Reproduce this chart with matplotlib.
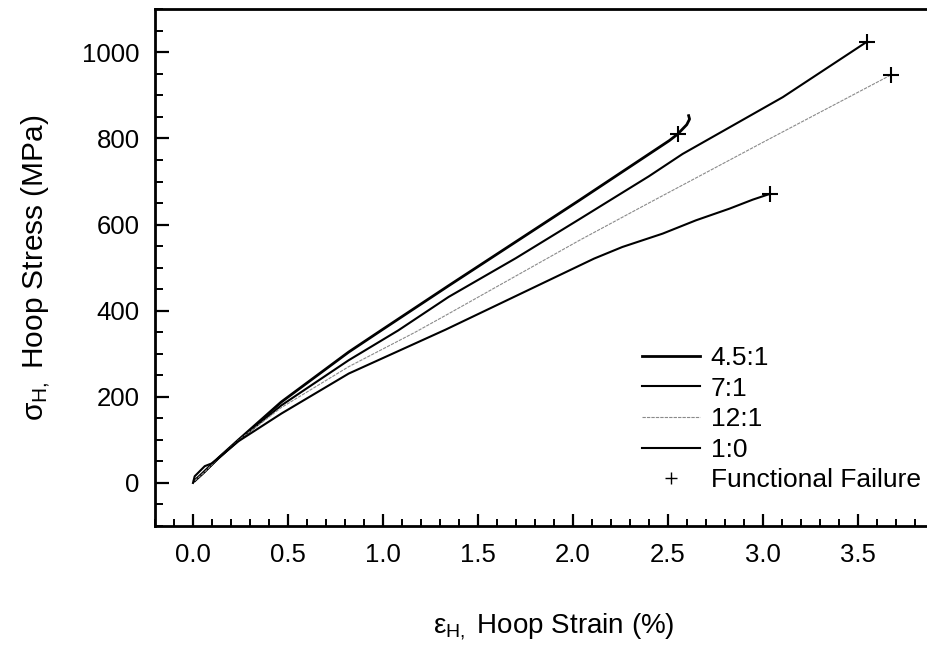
import matplotlib
matplotlib.use("Agg")
import matplotlib.pyplot as plt
from matplotlib.lines import Line2D
from matplotlib.ticker import MultipleLocator

plt.rcParams['font.family'] = ['Liberation Sans', 'DejaVu Sans']
plt.rcParams['mathtext.fontset'] = 'custom'
plt.rcParams['mathtext.rm'] = 'Liberation Sans'
plt.rcParams['mathtext.it'] = 'Liberation Sans'

# ---- data (hoop strain %, hoop stress MPa) ----
strain_45 = [0.009, 0.05, 0.132, 0.24, 0.465, 0.82, 0.99, 1.346, 2.033, 2.508, 2.552, 2.60, 2.615, 2.61]
stress_45 = [5, 22, 57, 100, 188, 304, 354, 458, 656, 795, 810, 832, 845, 853]

strain_7 = [0.009, 0.06, 0.132, 0.24, 0.465, 0.82, 1.08, 1.346, 1.70, 2.033, 2.209, 2.40, 2.578, 3.106, 3.55]
stress_7 = [5, 25, 57, 99, 180, 285, 354, 432, 522, 612, 660, 712, 764, 896, 1025]

strain_12 = [0.009, 0.06, 0.132, 0.24, 0.465, 0.82, 1.17, 1.346, 2.033, 2.40, 3.018, 3.673]
stress_12 = [5, 25, 57, 99, 175, 270, 350, 393, 563, 650, 795, 947]

strain_10 = [0.0, 0.009, 0.062, 0.097, 0.132, 0.24, 0.465, 0.82, 1.33, 2.112, 2.261, 2.473, 2.649, 2.825, 2.948, 3.036]
stress_10 = [0, 15.5, 39, 45, 57, 97, 161, 254, 356, 521, 548, 579, 610, 637, 658, 671]

fail_strain = [2.552, 3.550, 3.673, 3.036]
fail_stress = [810, 1025, 947, 671]

series_labels = ['4.5:1', '7:1', '12:1', '1:0']
fail_label = 'Functional Failure'

xticks = [0.0, 0.5, 1.0, 1.5, 2.0, 2.5, 3.0, 3.5]
yticks = [0, 200, 400, 600, 800, 1000]

# ---- figure ----
fig = plt.figure(figsize=(9.27, 6.48), dpi=100)
ax = fig.add_axes([155/927, 1 - 526/648, (952.6 - 155)/927, (526 - 9.3)/648])

ax.plot(strain_45, stress_45, color='black', lw=2.0, label=series_labels[0])
ax.plot(strain_7, stress_7, color='black', lw=1.5, label=series_labels[1])
ax.plot(strain_12, stress_12, color='#8a8a8a', lw=0.8, ls=(0, (3, 1)), label=series_labels[2])
ax.plot(strain_10, stress_10, color='black', lw=1.5, label=series_labels[3])
ax.plot(fail_strain, fail_stress, ls='none', marker='+', ms=11, mew=1.5, color='black')

ax.set_xlim(-0.2, 4.0)
ax.set_ylim(-100, 1100)
ax.set_xticks(xticks)
ax.set_xticklabels([f'{t:.1f}' for t in xticks])
ax.set_yticks(yticks)
ax.xaxis.set_minor_locator(MultipleLocator(0.1))
ax.yaxis.set_minor_locator(MultipleLocator(50))

for s in ax.spines.values():
    s.set_linewidth(2.0)
ax.tick_params(which='major', direction='in', length=10, width=1.6, labelsize=18.5, pad=11)
ax.tick_params(which='minor', direction='in', length=5.5, width=1.4)
ax.tick_params(axis='x', which='major', length=9, pad=12)
ax.tick_params(axis='x', which='minor', length=5)

ax.set_xlabel(r'$\mathrm{\varepsilon}_{\mathrm{H},}$ Hoop Strain (%)', fontsize=20, labelpad=32)
ax.set_ylabel(r'$\mathrm{\sigma}_{\mathrm{H},}$ Hoop Stress (MPa)', fontsize=21.5, labelpad=22)

handles = [
    Line2D([], [], color='black', lw=2.0),
    Line2D([], [], color='black', lw=1.5),
    Line2D([], [], color='#8a8a8a', lw=0.8, ls=(0, (3, 1))),
    Line2D([], [], color='black', lw=1.5),
    Line2D([], [], ls='none', marker='+', ms=8, mew=1.0, color='black'),
]
ax.legend(handles, series_labels + [fail_label], loc='upper left',
          bbox_to_anchor=(642 / 927, 1 - 346 / 648), bbox_transform=fig.transFigure,
          frameon=False, fontsize=19, borderpad=0, borderaxespad=0,
          handlelength=2.2, handletextpad=0.4, labelspacing=0.25)

fig.savefig('out.png', dpi=100)
